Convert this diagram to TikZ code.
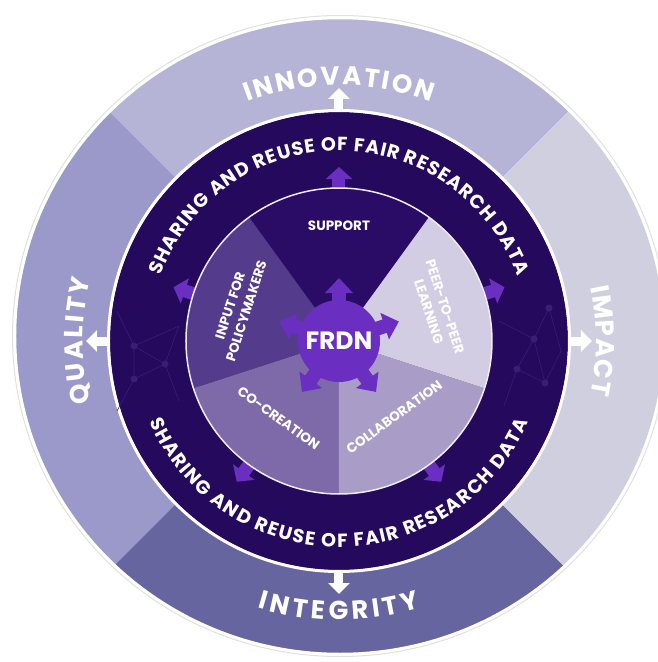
\documentclass[tikz,border=0pt]{standalone}
\usepackage{fontspec}
\setmainfont{Poppins}
\usetikzlibrary{arrows.meta,decorations.text}

\definecolor{innovcol}{HTML}{B5B4D6}
\definecolor{qualcol}{HTML}{9A99C9}
\definecolor{impactcol}{HTML}{D0CFE0}
\definecolor{integcol}{HTML}{67659F}
\definecolor{ringcol}{HTML}{25095C}
\definecolor{supportcol}{HTML}{2A0C66}
\definecolor{peercol}{HTML}{D2CDE3}
\definecolor{collabcol}{HTML}{A99DC7}
\definecolor{cocreatecol}{HTML}{7E6AA9}
\definecolor{inputcol}{HTML}{553B8C}
\definecolor{frdncol}{HTML}{6A2EC0}
\definecolor{netcol}{HTML}{3A1E76}

\newcommand{\bigcapsfont}{\bfseries\fontsize{26}{26}\selectfont}
\newcommand{\ringcapsfont}{\bfseries\fontsize{19}{19}\selectfont}

\begin{document}
\begin{tikzpicture}[x=1pt, y=1pt,
    arctext/.style={decorate, decoration={text along path, text align=fit to path, text color=white}},
    pielabel/.style={text=white, align=center, inner sep=0pt, font=\bfseries\fontsize{13.5}{17}\selectfont},
    hub/.style={circle, fill=frdncol, minimum size=82pt, inner sep=0pt, text=white, font=\bfseries\fontsize{25}{25}\selectfont},
    outarrow/.style={white, line width=9pt, -{Triangle[width=21pt, length=11pt]}},
    ringarrow/.style={frdncol, line width=13pt, -{Triangle[width=26pt, length=12pt]}},
    hubarrow/.style={frdncol, line width=14pt, -{Triangle[width=27pt, length=15pt]}},
    netdot/.style={fill=netcol}]
    \useasboundingbox (-339,-321) rectangle (318,341);

    \begin{scope}
        \clip (1,5) ellipse (325 and 318);
        \fill[innovcol]  (0,0) -- (45:600)  -- (135:600) -- cycle;
        \fill[qualcol]   (0,0) -- (135:600) -- (225:600) -- cycle;
        \fill[integcol]  (0,0) -- (225:600) -- (315:600) -- cycle;
        \fill[impactcol] (0,0) -- (315:600) -- (45:600)  -- cycle;
    \end{scope}
    \draw[black!12, line width=1] (1,5) ellipse (327.5 and 320.5);
    \draw[white, line width=2.5] (1,5) ellipse (325 and 318);

    \foreach \a in {0,90,180,270}
        \draw[outarrow] (\a:226) -- (\a:253);

    \fill[ringcol] (0,0) circle (229);
    \draw[white, line width=3] (0,0) circle (230.5);

    \draw[netcol, line width=0.6] (-222,30) -- (-205,-5) -- (-174,-23) -- (-205,-38) -- (-222,-70)
        (-205,-5) -- (-205,-38) (-174,-23) -- (-160,15) (-205,-5) -- (-160,15) (-174,-23) -- (-160,-60);
    \draw[netcol, line width=0.6] (210,33) -- (195,2) -- (178,-28) -- (206,-42) -- (222,-10)
        (195,2) -- (206,-42) (210,33) -- (222,-10) (178,-28) -- (165,-65) (195,2) -- (160,20);
    \foreach \p in {(-205,-5),(-205,-38),(-174,-23),(195,2),(206,-42),(178,-28),(210,33)}
        \fill[netdot] \p circle (3.5);

    \path[arctext, decoration={text={|\ringcapsfont|SHARING AND REUSE OF FAIR RESEARCH DATA}}]
        (160:190) arc (160:20:190);
    \path[arctext, decoration={text={|\ringcapsfont|SHARING AND REUSE OF FAIR RESEARCH DATA}}]
        (203:206) arc (203:337:206);

    \path[arctext, decoration={text={|\bigcapsfont|INNOVATION}}] (111:256) arc (111:69:256);
    \path[arctext, decoration={text={|\bigcapsfont|QUALITY}}] (194:256) arc (194:166:256);
    \path[arctext, decoration={text={|\bigcapsfont|IMPACT}}] (12:257) arc (12:-12:257);
    \path[arctext, decoration={text={|\bigcapsfont|INTEGRITY}}] (253:279) arc (253:287:279);

    \foreach \a in {90,18,162,234,306}
        \draw[ringarrow] (\a:150) -- (\a:174);

    \fill[supportcol]  (0,0) -- (54:153)  arc (54:126:153)  -- cycle;
    \fill[inputcol]    (0,0) -- (126:153) arc (126:198:153) -- cycle;
    \fill[cocreatecol] (0,0) -- (198:153) arc (198:270:153) -- cycle;
    \fill[collabcol]   (0,0) -- (270:153) arc (270:342:153) -- cycle;
    \fill[peercol]     (0,0) -- (-18:153) arc (-18:54:153)  -- cycle;
    \draw[white!80!collabcol, line width=1.5] (0,0) circle (153);

    \node[pielabel] (support) at (90:115) {SUPPORT};
    \node[pielabel, rotate=-72] (peer) at (18:103) {PEER-TO-PEER\\LEARNING};
    \node[pielabel, rotate=36] (collab) at (306:94) {COLLABORATION};
    \node[pielabel, rotate=-36] (cocreate) at (232:98) {CO-CREATION};
    \node[pielabel, rotate=72] (input) at (162:106) {INPUT FOR\\POLICYMAKERS};

    \foreach \a in {90,18,162,234,306}
        \draw[hubarrow] (\a:30) -- (\a:63);
    \node[hub] (frdn) at (0,0) {FRDN};
\end{tikzpicture}
\end{document}
